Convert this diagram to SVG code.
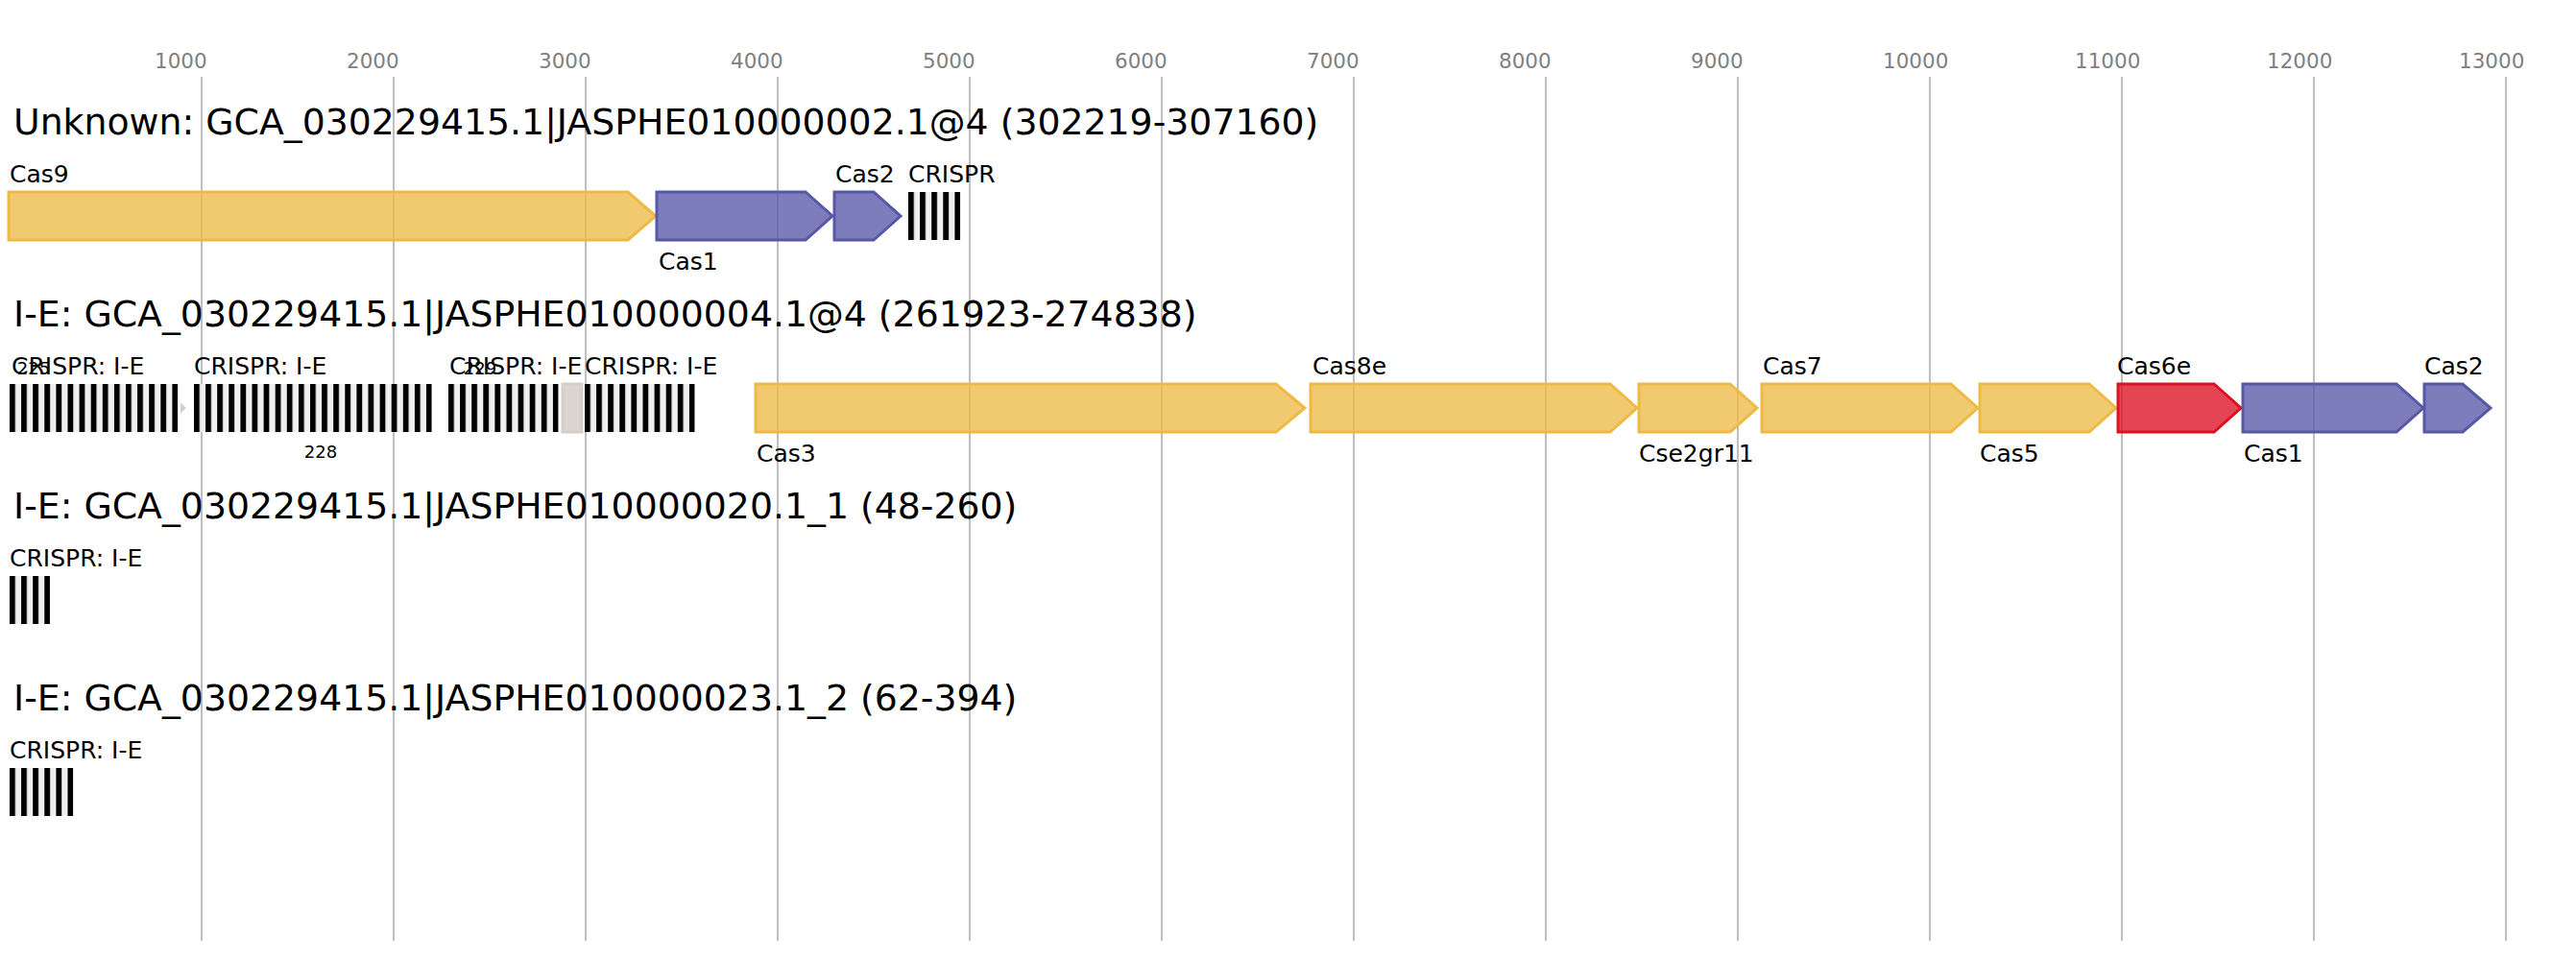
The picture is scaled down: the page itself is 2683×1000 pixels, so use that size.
<svg xmlns="http://www.w3.org/2000/svg" width="2683" height="1000" viewBox="0 0 2683 1000">
<style>
text{font-family:"DejaVu Sans","Liberation Sans",sans-serif}
.ax{font-size:21.5px;fill:#808080}
.grid{stroke:#bfbfbf;stroke-width:2}
.title{font-size:37.8px;fill:#000}
.lbl{font-size:25px;fill:#000}
.num{font-size:18px;fill:#000;text-anchor:middle}
.y{fill:#EDBA45;fill-opacity:.78;stroke:#EDBA45;stroke-width:3}
.b{fill:#5759A6;fill-opacity:.78;stroke:#5759A6;stroke-width:3}
.r{fill:#DD1122;fill-opacity:.78;stroke:#DD1122;stroke-width:3}
.g{fill:#DCD5CF;stroke:#D6CEC8;stroke-width:3}
.arr{fill:url(#rep)}
</style>
<defs>
<pattern id="rep" patternUnits="userSpaceOnUse" x="0" y="0" width="12.1" height="50">
<rect x="0" y="0" width="12.1" height="50" fill="#f0f0f0"/>
<rect x="0" y="0" width="5.8" height="50" fill="#000"/>
</pattern>
</defs>
<rect width="2683" height="1000" fill="#fff"/>
<g id="axis">
<line class="grid" x1="210" y1="80" x2="210" y2="980"/>
<line class="grid" x1="410" y1="80" x2="410" y2="980"/>
<line class="grid" x1="610" y1="80" x2="610" y2="980"/>
<line class="grid" x1="810" y1="80" x2="810" y2="980"/>
<line class="grid" x1="1010" y1="80" x2="1010" y2="980"/>
<line class="grid" x1="1210" y1="80" x2="1210" y2="980"/>
<line class="grid" x1="1410" y1="80" x2="1410" y2="980"/>
<line class="grid" x1="1610" y1="80" x2="1610" y2="980"/>
<line class="grid" x1="1810" y1="80" x2="1810" y2="980"/>
<line class="grid" x1="2010" y1="80" x2="2010" y2="980"/>
<line class="grid" x1="2210" y1="80" x2="2210" y2="980"/>
<line class="grid" x1="2410" y1="80" x2="2410" y2="980"/>
<line class="grid" x1="2610" y1="80" x2="2610" y2="980"/>
<text class="ax" x="161" y="71">1000</text>
<text class="ax" x="361" y="71">2000</text>
<text class="ax" x="561" y="71">3000</text>
<text class="ax" x="761" y="71">4000</text>
<text class="ax" x="961" y="71">5000</text>
<text class="ax" x="1161" y="71">6000</text>
<text class="ax" x="1361" y="71">7000</text>
<text class="ax" x="1561" y="71">8000</text>
<text class="ax" x="1761" y="71">9000</text>
<text class="ax" x="1961" y="71">10000</text>
<text class="ax" x="2161" y="71">11000</text>
<text class="ax" x="2361" y="71">12000</text>
<text class="ax" x="2561" y="71">13000</text>
</g>
<g id="connectors"></g>

<g id="row1">
<text class="title" x="14" y="140">Unknown: GCA_030229415.1|JASPHE010000002.1@4 (302219-307160)</text>
<g id="r1-cas9"><path class="y" d="M9,200 H654 L683,225 L654,250 H9 Z"/><text class="lbl" x="10" y="190">Cas9</text></g>
<g id="r1-cas1"><path class="b" d="M684,200 H839 L867,225 L839,250 H684 Z"/><text class="lbl" x="686" y="281">Cas1</text></g>
<g id="r1-cas2"><path class="b" d="M869,200 H910 L938,225 L910,250 H869 Z"/><text class="lbl" x="870" y="190">Cas2</text></g>
<g id="r1-crispr" transform="translate(946,200)"><rect class="arr" width="54.2" height="50"/><text class="lbl" x="0" y="-10">CRISPR</text></g>
</g>

<g id="row2">
<text class="title" x="14" y="340">I-E: GCA_030229415.1|JASPHE010000004.1@4 (261923-274838)</text>
<g id="r2-crisprA" transform="translate(10,400)"><rect class="arr" width="175.2" height="50"/><text class="lbl" x="2" y="-10">CRISPR: I-E</text><text class="num" x="25" y="-10">225</text></g>
<g id="r2-small"><polygon points="188,419 194,425 188,431" fill="#d8d0c8"/></g>
<g id="r2-crisprB" transform="translate(202,400)"><rect class="arr" width="247.8" height="50"/><text class="lbl" x="0" y="-10">CRISPR: I-E</text><text class="num" x="132" y="77">228</text></g>
<g id="r2-crisprC" transform="translate(467,400)"><rect class="arr" width="114.7" height="50"/><text class="lbl" x="1" y="-10">CRISPR: I-E</text><text class="num" x="33" y="-10">229</text></g>
<g id="r2-unk"><rect class="g" x="586" y="400" width="20" height="50"/></g>
<g id="r2-crisprD" transform="translate(609,400)"><rect class="arr" width="114.7" height="50"/><text class="lbl" x="0" y="-10">CRISPR: I-E</text></g>
<g id="r2-cas3"><path class="y" d="M787,400 H1329 L1359,425 L1329,450 H787 Z"/><text class="lbl" x="788" y="481">Cas3</text></g>
<g id="r2-cas8e"><path class="y" d="M1365,400 H1677 L1705,425 L1677,450 H1365 Z"/><text class="lbl" x="1367" y="390">Cas8e</text></g>
<g id="r2-cse2"><path class="y" d="M1707,400 H1802 L1830,425 L1802,450 H1707 Z"/><text class="lbl" x="1707" y="481">Cse2gr11</text></g>
<g id="r2-cas7"><path class="y" d="M1835,400 H2032 L2060,425 L2032,450 H1835 Z"/><text class="lbl" x="1836" y="390">Cas7</text></g>
<g id="r2-cas5"><path class="y" d="M2062,400 H2176 L2204,425 L2176,450 H2062 Z"/><text class="lbl" x="2062" y="481">Cas5</text></g>
<g id="r2-cas6e"><path class="r" d="M2206,400 H2306 L2334,425 L2306,450 H2206 Z"/><text class="lbl" x="2205" y="390">Cas6e</text></g>
<g id="r2-cas1"><path class="b" d="M2336,400 H2496 L2524,425 L2496,450 H2336 Z"/><text class="lbl" x="2337" y="481">Cas1</text></g>
<g id="r2-cas2"><path class="b" d="M2525,400 H2565 L2594,425 L2565,450 H2525 Z"/><text class="lbl" x="2525" y="390">Cas2</text></g>
</g>

<g id="row3">
<text class="title" x="14" y="540">I-E: GCA_030229415.1|JASPHE010000020.1_1 (48-260)</text>
<g id="r3-crispr" transform="translate(10,600)"><rect class="arr" width="42.1" height="50"/><text class="lbl" x="0" y="-10">CRISPR: I-E</text></g>
</g>

<g id="row4">
<text class="title" x="14" y="740">I-E: GCA_030229415.1|JASPHE010000023.1_2 (62-394)</text>
<g id="r4-crispr" transform="translate(10,800)"><rect class="arr" width="66.3" height="50"/><text class="lbl" x="0" y="-10">CRISPR: I-E</text></g>
</g>
</svg>
